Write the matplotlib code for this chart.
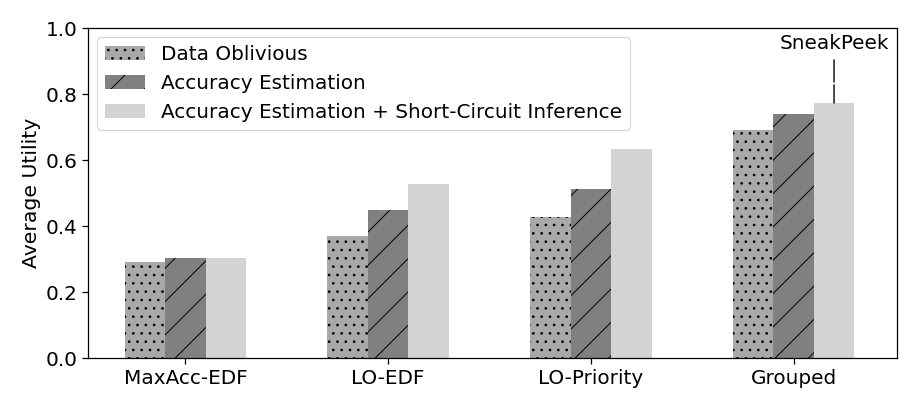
"""
Average utility of the three scheduling variants per policy.
"""
import matplotlib
matplotlib.use('Agg')
import matplotlib.pyplot as plt
import numpy as np

policies = ['MaxAcc-EDF', 'LO-EDF', 'LO-Priority', 'Grouped']
series_names = ['Data Oblivious', 'Accuracy Estimation',
                'Accuracy Estimation + Short-Circuit Inference']
data_oblivious = [0.29, 0.37, 0.427, 0.69]
accuracy_est = [0.303, 0.45, 0.512, 0.74]
accuracy_est_sc = [0.303, 0.527, 0.633, 0.773]

FS = 14.4
plt.rcParams.update({
    'hatch.linewidth': 0.7,
    'axes.linewidth': 0.9,
    'xtick.major.width': 0.9,
    'ytick.major.width': 0.9,
    'xtick.major.size': 4.0,
    'ytick.major.size': 4.0,
    'xtick.major.pad': 3.8,
    'ytick.major.pad': 3.8,
    'legend.fontsize': FS,
})

fig = plt.figure(figsize=(9.18, 4.08), dpi=100)
ax = fig.add_axes([0.096, 0.1225, 0.881, 0.8085])

x = np.arange(len(policies))
width = 0.2
styles = [
    ('darkgray', '..'),
    ('gray', '/'),
    ('lightgray', ''),
]
for i, (vals, name, (color, hatch)) in enumerate(
        zip([data_oblivious, accuracy_est, accuracy_est_sc], series_names,
            styles)):
    ax.bar(x + (i - 1) * width, vals, width, color=color, hatch=hatch,
           edgecolor='black', linewidth=0, label=name)

ax.set_xlim(-0.48, 3.51)
ax.set_ylim(0, 1.0)
ax.set_xticks(x)
ax.set_xticklabels(policies, fontsize=FS)
ax.set_yticks(np.arange(0, 1.01, 0.2))
ax.set_yticklabels(['%.1f' % v for v in np.arange(0, 1.01, 0.2)],
                   fontsize=FS)
ax.set_ylabel('Average Utility', fontsize=FS * 1.02, labelpad=3)

ax.annotate('SneakPeek', xy=(x[3] + width, accuracy_est_sc[3]),
            xytext=(x[3] + width, 0.925), ha='center', va='bottom',
            fontsize=FS,
            arrowprops=dict(arrowstyle='-', color='black', lw=1.0,
                            linestyle=(0, (16, 2)), shrinkA=3,
                            shrinkB=0))

leg = ax.legend(loc='upper left', borderaxespad=0.45)
leg.get_frame().set_linewidth(0.9)

fig.savefig('out.png', dpi=100)
